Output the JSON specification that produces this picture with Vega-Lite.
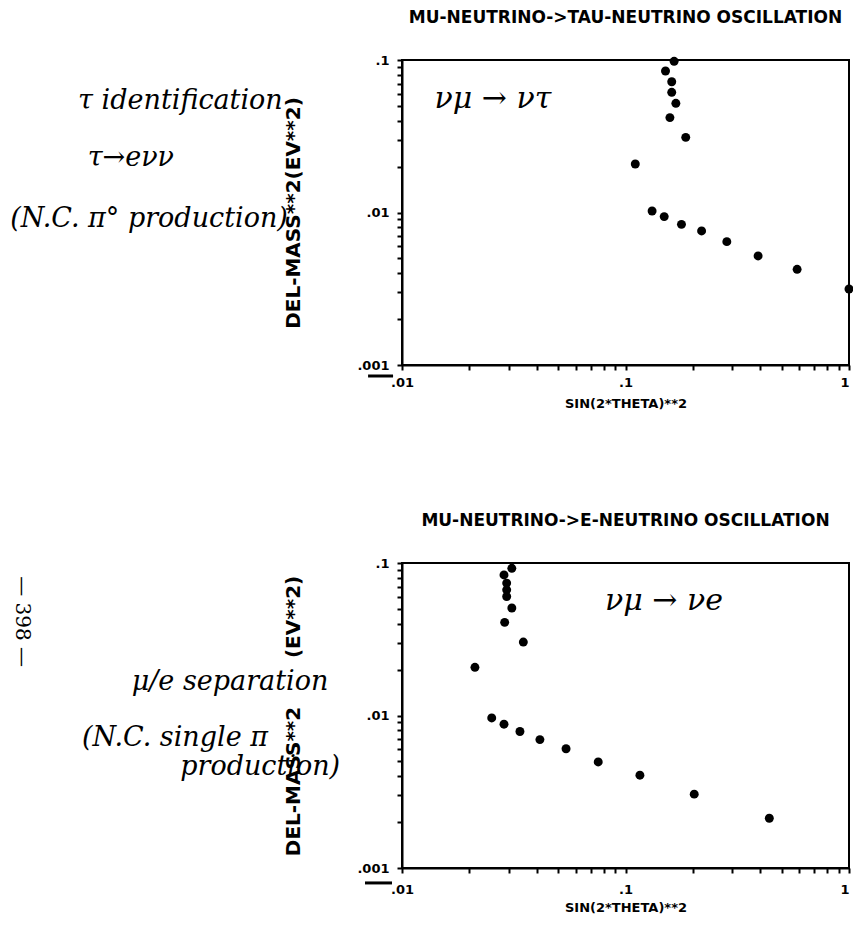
{
  "$schema": "https://vega.github.io/schema/vega-lite/v6.json",
  "background": "white",
  "padding": {"left": 9, "top": 8, "right": 2, "bottom": 8},
  "spacing": 100,
  "config": {
    "view": {"stroke": "black", "strokeWidth": 2},
    "axis": {
      "grid": false,
      "domainColor": "black",
      "domainWidth": 2,
      "ticks": true,
      "tickColor": "black",
      "tickWidth": 2,
      "tickSize": 5,
      "labelFont": "DejaVu Sans",
      "labelFontSize": 13,
      "labelFontWeight": "bold",
      "labelColor": "black",
      "titleFont": "DejaVu Sans",
      "titleFontWeight": "bold",
      "titleColor": "black"
    },
    "title": {"font": "DejaVu Sans", "fontSize": 17, "fontWeight": "bold", "color": "black", "anchor": "middle", "frame": "group"}
  },
  "datasets": {
    "tau": [
      {"x": 0.165, "y": 0.098},
      {"x": 0.151, "y": 0.0847},
      {"x": 0.161, "y": 0.072},
      {"x": 0.161, "y": 0.0614},
      {"x": 0.168, "y": 0.052},
      {"x": 0.158, "y": 0.0419},
      {"x": 0.186, "y": 0.0311},
      {"x": 0.1106, "y": 0.0208},
      {"x": 0.1315, "y": 0.01023},
      {"x": 0.149, "y": 0.0094},
      {"x": 0.178, "y": 0.00836},
      {"x": 0.219, "y": 0.00757},
      {"x": 0.284, "y": 0.00644},
      {"x": 0.392, "y": 0.00519},
      {"x": 0.586, "y": 0.00424},
      {"x": 1.0, "y": 0.00315}
    ],
    "e": [
      {"x": 0.031, "y": 0.0923},
      {"x": 0.0286, "y": 0.0835},
      {"x": 0.0294, "y": 0.0738},
      {"x": 0.0294, "y": 0.0667},
      {"x": 0.0294, "y": 0.0603},
      {"x": 0.031, "y": 0.0507},
      {"x": 0.0288, "y": 0.0408},
      {"x": 0.0349, "y": 0.0303},
      {"x": 0.0212, "y": 0.0207},
      {"x": 0.0252, "y": 0.00964},
      {"x": 0.0286, "y": 0.00877},
      {"x": 0.0337, "y": 0.00785},
      {"x": 0.0414, "y": 0.00695},
      {"x": 0.0542, "y": 0.00605},
      {"x": 0.0755, "y": 0.00496},
      {"x": 0.116, "y": 0.00406},
      {"x": 0.203, "y": 0.00305},
      {"x": 0.44, "y": 0.00212}
    ],
    "sideTop": [
      {"x": 0.00102, "y": 0.0538, "label": "τ identification"},
      {"x": 0.000612, "y": 0.0228, "label": "τ→eνν"},
      {"x": 0.000738, "y": 0.00906, "label": "(N.C. π° production)"}
    ],
    "inTop": [
      {"x": 0.0255, "y": 0.0555, "label": "νμ → ντ"}
    ],
    "sideBottom": [
      {"x": 0.0017, "y": 0.0165, "label": "μ/e separation"},
      {"x": 0.000964, "y": 0.00713, "label": "(N.C. single π"},
      {"x": 0.00232, "y": 0.00462, "label": "production)"}
    ],
    "inBottom": [
      {"x": 0.1486, "y": 0.0565, "label": "νμ → νe"}
    ],
    "page": [
      {"x": 0.0002, "y": 0.0413, "label": "— 398 —"}
    ],
    "underTop": [{"x": 0.00705, "x2": 0.00912, "y": 0.000847}],
    "underBottom": [{"x": 0.00683, "x2": 0.00902, "y": 0.000798}]
  },
  "vconcat": [
    {
      "title": {"text": "MU-NEUTRINO->TAU-NEUTRINO OSCILLATION", "offset": 27},
      "width": 447,
      "height": 305,
      "layer": [
        {
          "data": {"name": "tau"},
          "mark": {"type": "circle", "size": 80, "color": "black", "opacity": 1},
          "encoding": {
            "x": {
              "field": "x", "type": "quantitative",
              "scale": {"type": "log", "domain": [0.01, 1], "nice": false},
              "axis": {
                "title": "SIN(2*THETA)**2",
                "titleFontSize": 13,
                "titlePadding": 8,
                "values": [0.01, 0.02, 0.03, 0.04, 0.05, 0.06, 0.07, 0.08, 0.09, 0.1, 0.2, 0.3, 0.4, 0.5, 0.6, 0.7, 0.8, 0.9, 1],
                "labelExpr": "datum.value == 0.01 ? '.01' : datum.value == 0.1 ? '.1' : datum.value == 1 ? '1' : ''",
                "labelAlign": {"condition": {"test": "datum.value == 1", "value": "right"}, "value": "center"},
                "labelPadding": 6,
                "labelFlush": false,
                "labelOverlap": false
              }
            },
            "y": {
              "field": "y", "type": "quantitative",
              "scale": {"type": "log", "domain": [0.001, 0.1], "nice": false},
              "axis": {
                "title": "DEL-MASS**2(EV**2)",
                "titleFontSize": 20,
                "titlePadding": 53,
                "values": [0.001, 0.002, 0.003, 0.004, 0.005, 0.006, 0.007, 0.008, 0.009, 0.01, 0.02, 0.03, 0.04, 0.05, 0.06, 0.07, 0.08, 0.09, 0.1],
                "labelExpr": "datum.value == 0.001 ? '.001' : datum.value == 0.01 ? '.01' : datum.value == 0.1 ? '.1' : ''",
                "labelPadding": 8,
                "labelFlush": false,
                "labelOverlap": false
              }
            }
          }
        },
        {
          "data": {"name": "sideTop"},
          "mark": {"type": "text", "font": "DejaVu Serif", "fontStyle": "italic", "fontSize": 27, "color": "black", "align": "center", "baseline": "middle"},
          "encoding": {
            "x": {"field": "x", "type": "quantitative"},
            "y": {"field": "y", "type": "quantitative"},
            "text": {"field": "label"}
          }
        },
        {
          "data": {"name": "inTop"},
          "mark": {"type": "text", "font": "DejaVu Serif", "fontStyle": "italic", "fontSize": 30, "color": "black", "align": "center", "baseline": "middle"},
          "encoding": {
            "x": {"field": "x", "type": "quantitative"},
            "y": {"field": "y", "type": "quantitative"},
            "text": {"field": "label"}
          }
        },
        {
          "data": {"name": "underTop"},
          "mark": {"type": "rule", "strokeWidth": 3, "color": "black"},
          "encoding": {
            "x": {"field": "x", "type": "quantitative"},
            "x2": {"field": "x2"},
            "y": {"field": "y", "type": "quantitative"}
          }
        }
      ]
    },
    {
      "title": {"text": "MU-NEUTRINO->E-NEUTRINO OSCILLATION", "offset": 27},
      "width": 447,
      "height": 305,
      "layer": [
        {
          "data": {"name": "e"},
          "mark": {"type": "circle", "size": 80, "color": "black", "opacity": 1},
          "encoding": {
            "x": {
              "field": "x", "type": "quantitative",
              "scale": {"type": "log", "domain": [0.01, 1], "nice": false},
              "axis": {
                "title": "SIN(2*THETA)**2",
                "titleFontSize": 13,
                "titlePadding": 5,
                "values": [0.01, 0.02, 0.03, 0.04, 0.05, 0.06, 0.07, 0.08, 0.09, 0.1, 0.2, 0.3, 0.4, 0.5, 0.6, 0.7, 0.8, 0.9, 1],
                "labelExpr": "datum.value == 0.01 ? '.01' : datum.value == 0.1 ? '.1' : datum.value == 1 ? '1' : ''",
                "labelAlign": {"condition": {"test": "datum.value == 1", "value": "right"}, "value": "center"},
                "labelPadding": 10,
                "labelFlush": false,
                "labelOverlap": false
              }
            },
            "y": {
              "field": "y", "type": "quantitative",
              "scale": {"type": "log", "domain": [0.001, 0.1], "nice": false},
              "axis": {
                "title": "DEL-MASS**2\u00a0\u00a0\u00a0\u00a0\u00a0\u00a0\u00a0(EV**2)",
                "titleFontSize": 20,
                "titlePadding": 53,
                "values": [0.001, 0.002, 0.003, 0.004, 0.005, 0.006, 0.007, 0.008, 0.009, 0.01, 0.02, 0.03, 0.04, 0.05, 0.06, 0.07, 0.08, 0.09, 0.1],
                "labelExpr": "datum.value == 0.001 ? '.001' : datum.value == 0.01 ? '.01' : datum.value == 0.1 ? '.1' : ''",
                "labelPadding": 8,
                "labelFlush": false,
                "labelOverlap": false
              }
            }
          }
        },
        {
          "data": {"name": "sideBottom"},
          "mark": {"type": "text", "font": "DejaVu Serif", "fontStyle": "italic", "fontSize": 27, "color": "black", "align": "center", "baseline": "middle"},
          "encoding": {
            "x": {"field": "x", "type": "quantitative"},
            "y": {"field": "y", "type": "quantitative"},
            "text": {"field": "label"}
          }
        },
        {
          "data": {"name": "inBottom"},
          "mark": {"type": "text", "font": "DejaVu Serif", "fontStyle": "italic", "fontSize": 30, "color": "black", "align": "center", "baseline": "middle"},
          "encoding": {
            "x": {"field": "x", "type": "quantitative"},
            "y": {"field": "y", "type": "quantitative"},
            "text": {"field": "label"}
          }
        },
        {
          "data": {"name": "page"},
          "mark": {"type": "text", "font": "DejaVu Serif", "fontSize": 20, "color": "black", "angle": 90, "align": "center", "baseline": "middle"},
          "encoding": {
            "x": {"field": "x", "type": "quantitative"},
            "y": {"field": "y", "type": "quantitative"},
            "text": {"field": "label"}
          }
        },
        {
          "data": {"name": "underBottom"},
          "mark": {"type": "rule", "strokeWidth": 3, "color": "black"},
          "encoding": {
            "x": {"field": "x", "type": "quantitative"},
            "x2": {"field": "x2"},
            "y": {"field": "y", "type": "quantitative"}
          }
        }
      ]
    }
  ]
}
